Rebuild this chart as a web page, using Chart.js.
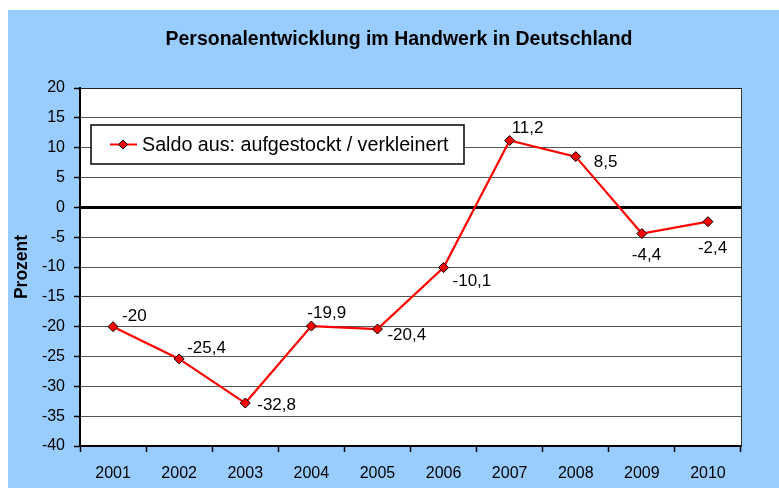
<!DOCTYPE html>
<html>
<head>
<meta charset="utf-8">
<script src="https://cdn.jsdelivr.net/npm/chart.js@4/dist/chart.umd.min.js"></script>
<style>
  html, body { margin: 0; padding: 0; background: #fff; }
  #wrap { width: 779px; height: 488px; }
</style>
</head>
<body>
<div id="wrap"><canvas id="chart" width="779" height="488"></canvas></div>
<script>
const years = ["2001", "2002", "2003", "2004", "2005", "2006", "2007", "2008", "2009", "2010"];
const saldo = [-20, -25.4, -32.8, -19.9, -20.4, -10.1, 11.2, 8.5, -4.4, -2.4];
const seriesLabel = "Saldo aus: aufgestockt / verkleinert";
const chartTitle = "Personalentwicklung im Handwerk in Deutschland";
const axisTitle = "Prozent";

// where each value label sits relative to its point (left edge, middle)
const labelOffsets = [[9, -10], [8, -11], [12, 2], [-4, -13], [10, 6], [9, 14], [2, -12], [18, 6], [-10, 22], [-10, 27]];

const FONT = "'Liberation Sans', Arial, sans-serif";

const backdrop = {
  id: "backdrop",
  beforeDraw(chart) {
    const { ctx, chartArea: a } = chart;
    ctx.save();
    ctx.fillStyle = "#99CCFF";
    ctx.fillRect(8, 10, chart.width - 8, chart.height - 10);
    ctx.fillStyle = "#fff";
    ctx.fillRect(a.left, a.top, a.right - a.left, a.bottom - a.top);
    ctx.fillStyle = "#000";
    ctx.font = "bold 19.5px " + FONT;
    ctx.textAlign = "center";
    ctx.textBaseline = "middle";
    ctx.fillText(chartTitle, 399, 40);
    ctx.restore();
  },
  afterDatasetsDraw(chart) {
    const { ctx, chartArea: a } = chart;
    ctx.save();
    ctx.strokeStyle = "#333";
    ctx.lineWidth = 1;
    ctx.beginPath();
    ctx.moveTo(a.right + 0.5, a.top);
    ctx.lineTo(a.right + 0.5, a.bottom);
    ctx.stroke();

    // value labels
    const meta = chart.getDatasetMeta(0);
    ctx.fillStyle = "#000";
    ctx.font = "17px " + FONT;
    ctx.textAlign = "left";
    ctx.textBaseline = "middle";
    meta.data.forEach((pt, i) => {
      const txt = String(saldo[i]).replace(".", ",");
      ctx.fillText(txt, pt.x + labelOffsets[i][0], pt.y + labelOffsets[i][1]);
    });

    // legend box
    const bx = 91, by = 125, bw = 373, bh = 39;
    ctx.fillStyle = "#fff";
    ctx.fillRect(bx, by, bw, bh);
    ctx.strokeStyle = "#000";
    ctx.lineWidth = 1.5;
    ctx.strokeRect(bx, by, bw, bh);
    const my = by + bh / 2;
    ctx.strokeStyle = "#FF0000";
    ctx.lineWidth = 2;
    ctx.beginPath();
    ctx.moveTo(110, my);
    ctx.lineTo(137, my);
    ctx.stroke();
    ctx.beginPath();
    ctx.moveTo(123 - 4.5, my);
    ctx.lineTo(123, my - 4.5);
    ctx.lineTo(123 + 4.5, my);
    ctx.lineTo(123, my + 4.5);
    ctx.closePath();
    ctx.fillStyle = "#FF0000";
    ctx.fill();
    ctx.strokeStyle = "#000";
    ctx.lineWidth = 1;
    ctx.stroke();
    ctx.fillStyle = "#000";
    ctx.font = "19.7px " + FONT;
    ctx.fillText(chart.data.datasets[0].label, 142, my + 1);
    ctx.restore();
  }
};

new Chart(document.getElementById("chart"), {
  type: "line",
  data: {
    labels: years,
    datasets: [{
      label: seriesLabel,
      data: saldo,
      borderColor: "#FF0000",
      borderWidth: 2.2,
      backgroundColor: "#FF0000",
      pointStyle: "rectRot",
      pointRadius: 5,
      pointBorderColor: "#000",
      pointBorderWidth: 1,
      tension: 0,
    }],
  },
  options: {
    responsive: false,
    animation: false,
    layout: { padding: { top: 88, right: 38, bottom: 0, left: 0 } },
    plugins: {
      legend: { display: false },
      tooltip: { enabled: false },
    },
    scales: {
      x: {
        offset: true,
        grid: {
          offset: true,
          drawOnChartArea: false,
          drawTicks: true,
          tickLength: 6,
          tickColor: "#000",
          tickWidth: 1.5,
        },
        border: { color: "#000", width: 2 },
        ticks: { color: "#000", font: { family: FONT, size: 16 }, padding: 12 },
        afterFit(scale) { scale.height = 42; },
      },
      y: {
        min: -40,
        max: 20,
        ticks: { stepSize: 5, color: "#000", font: { family: FONT, size: 16 }, padding: 9 },
        grid: {
          color: (c) => (c.tick && c.tick.value === 0 ? "#000" : (c.tick && c.tick.value === 20 ? "#222" : "#555")),
          lineWidth: (c) => (c.tick && c.tick.value === 0 ? 3 : 1),
          tickLength: 6,
          tickColor: "#000",
          tickWidth: 1.5,
        },
        border: { color: "#000", width: 2 },
        title: {
          display: true,
          text: axisTitle,
          color: "#000",
          font: { family: FONT, size: 17.5, weight: "bold" },
          padding: { top: 12, bottom: 0 },
        },
        afterFit(scale) { scale.width = 80; },
      },
    },
  },
  plugins: [backdrop],
});
</script>
</body>
</html>
